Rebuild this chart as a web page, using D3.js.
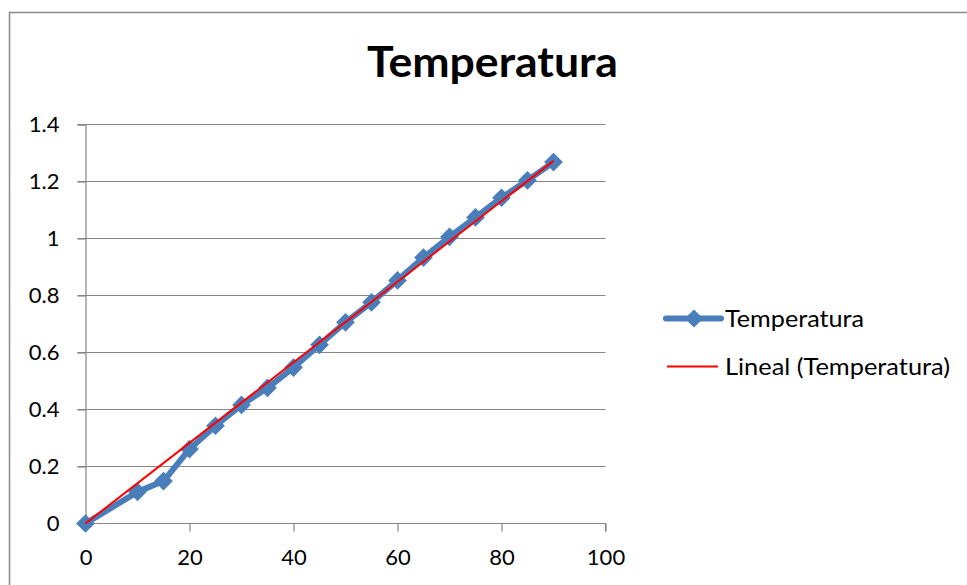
<!DOCTYPE html>
<html>
<head>
<meta charset="utf-8">
<script src="https://d3js.org/d3.v7.min.js"></script>
<style>
  html, body { margin: 0; padding: 0; background: #fff; }
  svg { display: block; font-family: Lato, "Open Sans", sans-serif; }
</style>
</head>
<body>
<div id="chart"></div>
<script>
// Values
const xValues = [0, 10, 15, 20, 25, 30, 35, 40, 45, 50, 55, 60, 65, 70, 75, 80, 85, 90];
const tempValues = [0, 0.111, 0.149, 0.261, 0.343, 0.416, 0.476, 0.547, 0.627, 0.706, 0.776, 0.853, 0.933, 1.006, 1.074, 1.143, 1.204, 1.268];
const xTicks = [0, 20, 40, 60, 80, 100];
const yTicks = [0, 0.2, 0.4, 0.6, 0.8, 1, 1.2, 1.4];
const seriesName = "Temperatura";
const trendName = "Lineal (Temperatura)";

const width = 967;
const height = 585;

const svg = d3.select("#chart")
  .append("svg")
    .attr("width", width)
    .attr("height", height);

// outer chart border (runs past the right/bottom edges of the picture)
svg.append("rect")
  .attr("x", 9.5)
  .attr("y", 12.5)
  .attr("width", width + 20)
  .attr("height", height + 20)
  .attr("fill", "none")
  .attr("stroke", "#898989")
  .attr("stroke-width", 1.5);

const x = d3.scaleLinear().domain([0, 100]).range([85.5, 605.5]);
const y = d3.scaleLinear().domain([0, 1.4]).range([523.5, 124.5]);

// horizontal gridlines
svg.append("g")
  .selectAll("line")
  .data(yTicks.filter(d => d > 0))
  .enter()
  .append("line")
    .attr("x1", x(0) - 8)
    .attr("x2", x(100))
    .attr("y1", d => y(d))
    .attr("y2", d => y(d))
    .attr("stroke", "#868686")
    .attr("stroke-width", 1.2);

// y axis
const yAxis = svg.append("g")
  .attr("transform", `translate(${x(0)},0)`)
  .call(d3.axisLeft(y).tickValues(yTicks).tickSize(8).tickPadding(18)
    .tickFormat(d => d3.format("~g")(d)));

// x axis
const xAxis = svg.append("g")
  .attr("transform", `translate(0,${y(0)})`)
  .call(d3.axisBottom(x).tickValues(xTicks).tickSize(8).tickPadding(18)
    .tickFormat(d3.format("d")));

[yAxis, xAxis].forEach(ax => {
  ax.select(".domain").attr("stroke", "#868686").attr("stroke-width", 1.2);
  ax.selectAll(".tick line").attr("stroke", "#868686").attr("stroke-width", 1.2);
  ax.selectAll(".tick text")
    .attr("fill", "#000")
    .attr("font-size", "22px")
    .attr("font-family", "Lato, 'Open Sans', sans-serif");
});
xAxis.select(".domain").attr("d", `M${x(0)},0H${x(100)}V8`);

// series line + markers
const line = d3.line()
  .x((d, i) => x(xValues[i]))
  .y(d => y(d));

const blue = "#4a7ebb";

svg.append("path")
  .datum(tempValues)
  .attr("d", line)
  .attr("fill", "none")
  .attr("stroke", blue)
  .attr("stroke-width", 6)
  .attr("stroke-linejoin", "round");

const diamond = d3.symbol().type(d3.symbolSquare).size(175);

svg.append("g")
  .selectAll("path")
  .data(tempValues)
  .enter()
  .append("path")
    .attr("d", diamond)
    .attr("transform", (d, i) => `translate(${x(xValues[i])},${y(d)}) rotate(45)`)
    .attr("fill", blue);

// linear trend line, intercept set to 0 (least squares through the origin)
let sxy = 0, sxx = 0;
xValues.forEach((xv, i) => {
  sxy += xv * tempValues[i];
  sxx += xv * xv;
});
const slope = sxy / sxx;
const xExt = d3.extent(xValues);

svg.append("line")
  .attr("x1", x(xExt[0]))
  .attr("y1", y(slope * xExt[0]))
  .attr("x2", x(xExt[1]))
  .attr("y2", y(slope * xExt[1]))
  .attr("stroke", "#ff0000")
  .attr("stroke-width", 2);

// title
svg.append("text")
  .attr("x", 367)
  .attr("y", 77)
  .attr("font-size", "42px")
  .attr("font-weight", "bold")
  .attr("fill", "#000")
  .attr("textLength", 251)
  .attr("lengthAdjust", "spacingAndGlyphs")
  .text(seriesName);

// legend
const legend = svg.append("g");
legend.append("line")
  .attr("x1", 666).attr("x2", 721)
  .attr("y1", 318.5).attr("y2", 318.5)
  .attr("stroke", blue).attr("stroke-width", 6)
  .attr("stroke-linecap", "round");
legend.append("path")
  .attr("d", d3.symbol().type(d3.symbolSquare).size(165))
  .attr("transform", "translate(694,318.5) rotate(45)")
  .attr("fill", blue);
legend.append("text")
  .attr("x", 725).attr("y", 327)
  .attr("font-size", "23px")
  .attr("fill", "#000")
  .attr("textLength", 139)
  .attr("lengthAdjust", "spacingAndGlyphs")
  .text(seriesName);

legend.append("line")
  .attr("x1", 667).attr("x2", 718)
  .attr("y1", 366.5).attr("y2", 366.5)
  .attr("stroke", "#ff0000").attr("stroke-width", 2);
legend.append("text")
  .attr("x", 725).attr("y", 375)
  .attr("font-size", "23px")
  .attr("fill", "#000")
  .attr("textLength", 225)
  .attr("lengthAdjust", "spacingAndGlyphs")
  .text(trendName);
</script>
</body>
</html>
